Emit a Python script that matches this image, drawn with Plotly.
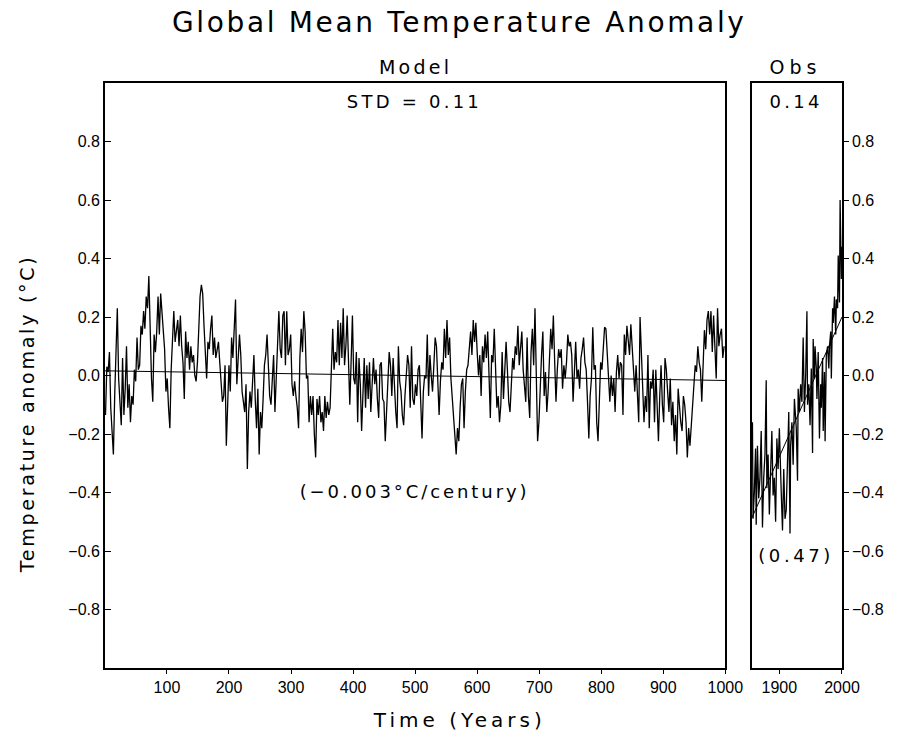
import json
import numpy as np
import plotly.graph_objects as go

# ---------------- data ----------------
model_anomaly = [
    -0.135, 0.03, 0.012, 0.08, -0.11, -0.20, -0.27, -0.07, 0.06, 0.23, -0.01, -0.10, -0.17, 0.06, -0.135, -0.045,
    0.10, -0.11, -0.03, -0.16, -0.07, -0.10, 0.02, -0.02, 0.13, 0.02, 0.035, 0.17, 0.14, 0.22, 0.16, 0.27,
    0.23, 0.34, 0.14, -0.01, -0.09, 0.14, 0.08, 0.15, 0.27, 0.14, 0.28, 0.22, 0.14, 0.09, -0.055, -0.01,
    -0.11, -0.18, 0.02, 0.14, 0.22, 0.115, 0.16, 0.19, 0.10, 0.205, 0.10, 0.045, -0.08, 0.15, 0.06, 0.115,
    0.02, 0.10, 0.045, 0.07, 0.0, -0.02, 0.045, 0.16, 0.27, 0.31, 0.28, 0.17, 0.09, -0.01, 0.115, 0.09,
    0.16, 0.205, 0.07, 0.13, 0.06, 0.09, 0.115, 0.045, -0.02, -0.09, -0.07, 0.035, -0.24,
    # ~200-400
    -0.11, 0.035, -0.055, 0.13, 0.06, 0.16, 0.26, -0.03, 0.06, 0.14, 0.07, -0.055, -0.09, -0.125, -0.03, -0.32,
    -0.125, -0.055, -0.11, -0.01, 0.07, -0.08, -0.18, -0.045, -0.27, -0.125, -0.18, -0.08, 0.035, 0.07, 0.14, 0.035,
    -0.07, -0.10, 0.0, 0.07, -0.125, -0.01, 0.045, 0.22, 0.09, 0.06, 0.205, 0.22, 0.035, 0.22, 0.07, 0.09,
    0.14, -0.03, -0.07, -0.02, -0.07, -0.11, -0.18, 0.06, 0.16, 0.08, 0.22, 0.15, -0.01, 0.0, -0.16, -0.07,
    -0.135, -0.07, -0.20, -0.28, -0.08, -0.135, -0.07, -0.16, -0.125, -0.19, -0.07, -0.145, -0.09, -0.135, -0.11, 0.045,
    0.16, 0.02, 0.08, 0.045, 0.19, 0.035, 0.18, 0.06, 0.23, 0.035, 0.10, 0.205, 0.02, -0.10, 0.045, 0.205,
    # ~400-600
    -0.01, -0.03, 0.08, -0.16, 0.06, -0.03, -0.19, -0.09, 0.06, -0.11, 0.035, -0.08, 0.045, -0.125, -0.045, 0.06,
    -0.03, 0.02, -0.08, -0.145, 0.035, 0.045, -0.08, -0.09, -0.225, -0.11, 0.0, 0.08, 0.035, -0.07, 0.06, -0.045,
    -0.125, -0.18, 0.10, -0.02, -0.055, -0.135, -0.17, -0.07, 0.0, 0.07, 0.035, -0.11, 0.10, -0.08, -0.10, -0.03,
    -0.07, 0.02, 0.035, -0.125, -0.215, -0.055, 0.0, -0.01, 0.14, -0.07, 0.07, 0.0, -0.055, 0.035, 0.13, 0.10,
    -0.045, -0.135, -0.02, 0.045, 0.02, 0.16, 0.06, 0.19, 0.07, 0.13, -0.01, -0.07, -0.125, -0.20, -0.27, -0.18,
    -0.225, -0.11, -0.03, -0.01, -0.18, -0.055, 0.02, 0.035, 0.10, 0.15, 0.07, 0.19, 0.115, 0.18, 0.08, 0.0,
    # ~600-800
    0.07, -0.07, 0.10, 0.045, 0.14, 0.06, 0.15, 0.0, -0.145, 0.07, 0.045, 0.16, -0.01, -0.11, -0.07, -0.16,
    -0.10, 0.08, -0.08, 0.035, 0.115, 0.02, -0.09, -0.125, -0.01, 0.06, 0.02, 0.10, 0.07, 0.17, 0.035, 0.08,
    0.15, 0.02, -0.03, -0.09, 0.13, -0.07, -0.145, 0.08, 0.16, 0.035, 0.23, -0.055, -0.225, -0.16, -0.01, 0.07,
    0.15, -0.07, 0.012, -0.125, -0.055, 0.07, 0.16, 0.09, 0.205, 0.045, -0.09, 0.02, 0.09, 0.06, 0.09, -0.045,
    0.035, -0.01, 0.045, 0.14, 0.10, 0.115, 0.07, -0.09, 0.02, 0.115, -0.01, 0.02, -0.045, 0.06, 0.09, 0.13,
    0.045, 0.02, -0.09, -0.215, -0.07, -0.01, 0.165, 0.02, 0.035, -0.16, -0.225, -0.09, 0.045, 0.02, 0.08, 0.165,
    # ~800-1000
    0.16, 0.07, 0.02, -0.09, 0.0, -0.07, -0.01, -0.125, 0.012, 0.07, -0.01, 0.045, 0.035, -0.135, 0.14, 0.07,
    0.17, 0.10, 0.07, 0.175, 0.09, 0.02, -0.055, 0.035, -0.07, -0.16, 0.20, 0.08, 0.02, -0.16, -0.07, -0.125,
    0.07, -0.18, -0.02, -0.045, 0.02, -0.16, 0.02, -0.09, -0.225, -0.07, 0.035, -0.10, -0.16, 0.06, 0.02, -0.055,
    -0.125, -0.01, -0.17, -0.09, -0.225, -0.135, -0.27, -0.045, -0.11, -0.16, -0.19, -0.07, -0.10, -0.16, -0.28, -0.18,
    -0.24, -0.17, -0.09, -0.03, 0.035, 0.012, 0.10, 0.045, 0.02, -0.09, 0.08, 0.155, 0.09, 0.19, 0.22, 0.14,
    0.22, 0.08, 0.205, 0.09, -0.01, 0.23, 0.10, 0.14, 0.16, 0.06, 0.10,
]
model_first_year = 1
model_last_year = 998
model_trend = [0.016, -0.017]          # trend line at year 0 and year 1000

obs_years = [
    1857, 1858, 1860, 1862, 1863, 1865, 1867, 1869, 1871, 1873, 1875, 1877, 1879, 1880, 1882, 1884,
    1886, 1888, 1890, 1892, 1894, 1896, 1898, 1900, 1903, 1905, 1907, 1909, 1911, 1913, 1915, 1917,
    1918, 1920, 1922, 1924, 1927, 1929, 1930, 1932, 1934, 1936, 1938, 1940, 1942, 1944, 1945, 1947,
    1949, 1951, 1953, 1954, 1956, 1957, 1959, 1960, 1962, 1964, 1966, 1967, 1969, 1970, 1972, 1973,
    1975, 1977, 1979, 1980, 1982, 1983, 1985, 1986, 1988, 1990, 1991, 1993, 1994, 1996, 1997, 1999, 2000,
]
obs_anomaly = [
    -0.16, -0.49, -0.40, -0.25, -0.51, -0.24, -0.42, -0.35, -0.19, -0.52, -0.35, -0.27, -0.016, -0.385, -0.27, -0.475,
    -0.33, -0.19, -0.41, -0.35, -0.50, -0.215, -0.32, -0.18, -0.40, -0.53, -0.32, -0.49, -0.46, -0.29, -0.125, -0.54,
    -0.24, -0.16, -0.305, -0.08, -0.18, -0.36, -0.045, -0.125, -0.03, -0.09, 0.13, -0.125, 0.0, 0.22, -0.10, -0.03,
    -0.17, 0.024, -0.265, 0.125, -0.01, 0.10, 0.024, -0.08, 0.08, -0.215, -0.03, -0.11, 0.06, -0.19, 0.012, -0.225,
    0.07, 0.10, 0.024, 0.10, 0.15, -0.01, 0.23, 0.18, 0.27, 0.14, 0.26, 0.23, 0.41, 0.25, 0.60, 0.33, 0.44,
]
obs_trend_years = [1856, 2000]
obs_trend = [-0.487, 0.20]

model_std_text = "STD = 0.11"
obs_std_text = "0.14"
model_rate_text = "(\u22120.003\u00b0C/century)"
obs_rate_text = "(0.47)"

y_ticks = [-0.8, -0.6, -0.4, -0.2, 0.0, 0.2, 0.4, 0.6, 0.8]
y_ticktext = [("\u2212" if v < 0 else "") + f"{abs(v):.1f}" for v in y_ticks]
model_xticks = [100, 200, 300, 400, 500, 600, 700, 800, 900, 1000]
obs_xticks = [1900, 2000]

# ---------------- figure ----------------
W, H = 909, 740            # reference picture size (positions below are given in its pixels)
model_years = np.linspace(model_first_year, model_last_year, len(model_anomaly))

fig = go.Figure()
fig.add_trace(go.Scatter(x=model_years, y=model_anomaly, mode="lines",
                         line=dict(color="black", width=1.3), xaxis="x", yaxis="y"))
fig.add_trace(go.Scatter(x=[0, 1000], y=model_trend, mode="lines",
                         line=dict(color="black", width=1), xaxis="x", yaxis="y"))
fig.add_trace(go.Scatter(x=obs_years, y=obs_anomaly, mode="lines",
                         line=dict(color="black", width=1.3), xaxis="x2", yaxis="y2"))
fig.add_trace(go.Scatter(x=obs_trend_years, y=obs_trend, mode="lines",
                         line=dict(color="black", width=1), xaxis="x2", yaxis="y2"))

def px_x(p):
    return p / W

def px_y(p):
    return 1 - p / H

tick_font = dict(family="Liberation Sans", size=16, color="black")
ax_common = dict(showline=True, linecolor="black", linewidth=1.5, mirror=True,
                 showgrid=False, zeroline=False, tickcolor="black", tickfont=tick_font)

fig.update_layout(
    autosize=True,
    margin=dict(l=0, r=0, t=0, b=0),
    paper_bgcolor="white", plot_bgcolor="white",
    showlegend=False,
    hovermode=False,
    xaxis=dict(domain=[px_x(107), px_x(740)], range=[0, 1000], tickvals=model_xticks,
               ticks="outside", ticklen=4, anchor="y", **ax_common),
    yaxis=dict(domain=[px_y(668), px_y(83)], range=[-1, 1], tickvals=y_ticks, ticktext=y_ticktext,
               ticks="inside", ticklen=6, anchor="x", **ax_common),
    xaxis2=dict(domain=[px_x(767), px_x(859)], range=[1856, 2000], tickvals=obs_xticks,
                ticks="outside", ticklen=4, anchor="y2", **ax_common),
    yaxis2=dict(domain=[px_y(668), px_y(83)], range=[-1, 1], tickvals=y_ticks, ticktext=y_ticktext,
                ticks="outside", ticklen=5, side="right", anchor="x2", **ax_common),
)

label_font = "DejaVu Sans"
target_widths = []

def ann(text, x, y, size, width, angle=0):
    fig.add_annotation(text=text, x=px_x(x), y=px_y(y), xref="paper", yref="paper",
                       showarrow=False, xanchor="center", yanchor="middle", textangle=angle,
                       font=dict(family=label_font, size=size, color="black"))
    target_widths.append(width)

ann("Global Mean Temperature Anomaly", 469, 22, 28, 572)
ann("Model", 424, 67, 19, 70)
ann("Obs", 812, 67, 19, 47)
ann(model_std_text, 423, 101, 18, 132)
ann(obs_std_text, 812, 101, 18, 50)
ann(model_rate_text, 423, 491, 18, 227)
ann(obs_rate_text, 812, 555, 18, 72)
ann("Temperature anomaly (\u00b0C)", 28, 414, 19, 315, angle=-90)
ann("Time (Years)", 469, 720, 20, 168)

# page without body margin, figure filling the window; labels get the wide
# letter spacing of the original lettering
post_js = """
var gd = document.getElementById('{plot_id}');
document.documentElement.style.margin = '0';
document.documentElement.style.overflow = 'hidden';
document.body.style.margin = '0';
document.body.style.overflow = 'hidden';
var targets = %s;
function spaceLabels() {
  var sc = (gd._fullLayout && gd._fullLayout.width) ? gd._fullLayout.width / %d : 1;
  var ts = gd.querySelectorAll('.annotation-text');
  ts.forEach(function (t, i) {
    if (i >= targets.length) return;
    t.style.letterSpacing = '0px';
    var n = t.textContent.length;
    var L = t.getComputedTextLength();
    var ls = (targets[i] * sc - L) / Math.max(n - 1, 1);
    if (ls > 0) { t.style.letterSpacing = ls.toFixed(2) + 'px'; }
  });
}
gd.on('plotly_afterplot', spaceLabels);
var p = Plotly.Plots.resize(gd);
if (p && p.then) { p.then(spaceLabels); }
spaceLabels();
""" % (json.dumps(target_widths), W)

fig.write_html("out.html", post_script=post_js,
               default_width="100vw", default_height="100vh",
               config={"displayModeBar": False})
